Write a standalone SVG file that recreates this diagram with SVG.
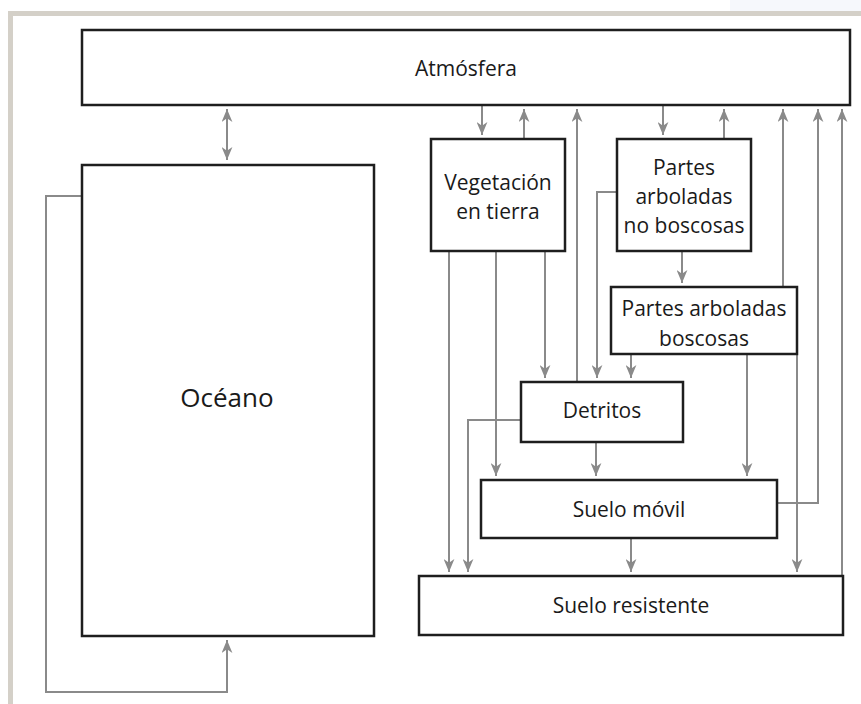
<svg xmlns="http://www.w3.org/2000/svg" width="861" height="704" viewBox="0 0 861 704">
<style>
.box{fill:#ffffff;stroke:#1e1e1e;stroke-width:2.5}
.lbl{font-family:"Open Sans","Liberation Sans",sans-serif;font-size:21px;fill:#1a1a1a;text-anchor:middle}
.big{font-size:26px}
.c{fill:none;stroke:#8a8a8a;stroke-width:2}
.a{marker-end:url(#ah)}
</style>
<defs>
<marker id="ah" viewBox="0 0 12 10" refX="12" refY="5" markerWidth="13" markerHeight="11" markerUnits="userSpaceOnUse" orient="auto-start-reverse">
<path d="M0,0 L12,5 L0,10 L3.5,5 z" fill="#8a8a8a"/>
</marker>
</defs>
<rect x="0" y="0" width="861" height="704" fill="#ffffff"/>
<rect x="730" y="0" width="131" height="11" fill="#f6f8fc"/>
<rect x="8" y="11" width="853" height="5" fill="#d4d0c8"/>
<rect x="8" y="11" width="5" height="693" fill="#d4d0c8"/>

<g id="connectors">
<path class="c" d="M227,109 V160" marker-start="url(#ah)" marker-end="url(#ah)"/>
<path class="c a" d="M482,106 V135"/>
<path class="c a" d="M524,139 V109"/>
<path class="c a" d="M577,382 V109"/>
<path class="c a" d="M663,106 V135"/>
<path class="c a" d="M724,139 V109"/>
<path class="c a" d="M783,287 V109"/>
<path class="c a" d="M777,503 H818 V109"/>
<path class="c a" d="M842,576 V109"/>
<path class="c a" d="M682,251 V283"/>
<path class="c a" d="M617,192 H597 V378"/>
<path class="c a" d="M545,251 V378"/>
<path class="c a" d="M496,251 V476"/>
<path class="c a" d="M449,251 V572"/>
<path class="c a" d="M631,354 V378"/>
<path class="c a" d="M747,354 V476"/>
<path class="c a" d="M797,354 V572"/>
<path class="c a" d="M521,420 H468 V572"/>
<path class="c a" d="M596,442 V476"/>
<path class="c a" d="M631,538 V572"/>
<path class="c a" d="M82,196 H46 V692 H227 V640"/>
</g>

<g id="atmosfera">
<rect class="box" x="82" y="30" width="768" height="75"/>
<text class="lbl" x="466" y="76">Atmósfera</text>
</g>
<g id="oceano">
<rect class="box" x="82" y="165" width="292" height="471"/>
<text class="lbl big" x="227" y="407">Océano</text>
</g>
<g id="vegetacion">
<rect class="box" x="431" y="139" width="134" height="112"/>
<text class="lbl" x="498" y="190">Vegetación</text>
<text class="lbl" x="498" y="219">en tierra</text>
</g>
<g id="no-boscosas">
<rect class="box" x="617" y="139" width="134" height="112"/>
<text class="lbl" x="684" y="175">Partes</text>
<text class="lbl" x="684" y="204">arboladas</text>
<text class="lbl" x="684" y="233">no boscosas</text>
</g>
<g id="boscosas">
<rect class="box" x="611" y="287" width="186" height="67"/>
<text class="lbl" x="704" y="316">Partes arboladas</text>
<text class="lbl" x="704" y="346">boscosas</text>
</g>
<g id="detritos">
<rect class="box" x="521" y="382" width="162" height="60"/>
<text class="lbl" x="602" y="418">Detritos</text>
</g>
<g id="suelo-movil">
<rect class="box" x="481" y="480" width="296" height="58"/>
<text class="lbl" x="629" y="517">Suelo móvil</text>
</g>
<g id="suelo-resistente">
<rect class="box" x="419" y="576" width="424" height="59"/>
<text class="lbl" x="631" y="613">Suelo resistente</text>
</g>
</svg>
